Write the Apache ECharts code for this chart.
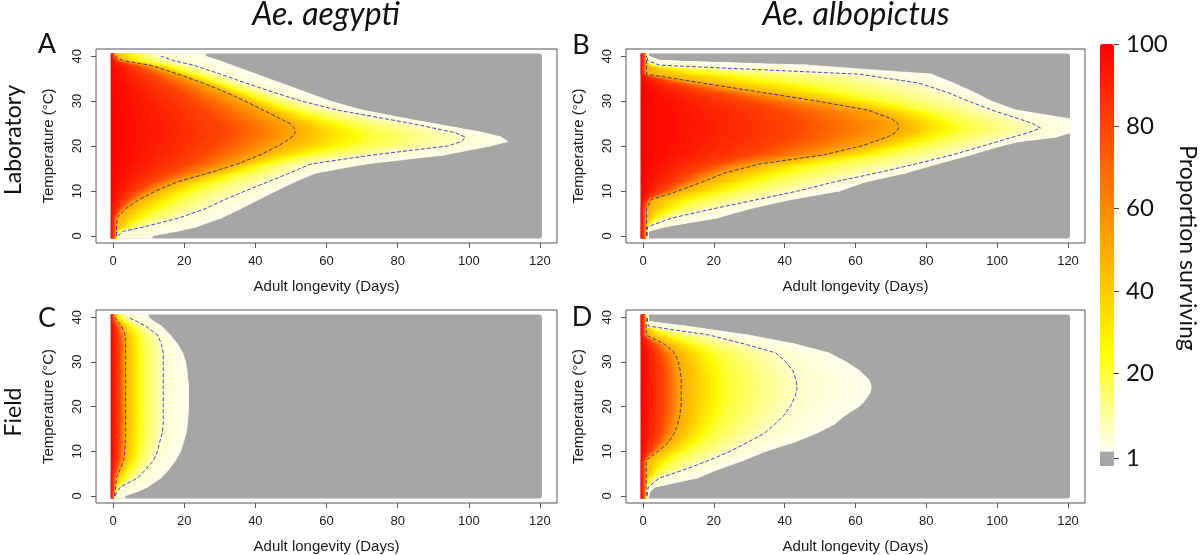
<!DOCTYPE html>
<html>
<head>
<meta charset="utf-8">
<script src="https://cdn.jsdelivr.net/npm/echarts@6.0.0/dist/echarts.min.js"></script>
<style>
html, body { margin:0; padding:0; background:#ffffff; }
#chart { width:1200px; height:555px; }
</style>
</head>
<body>
<div id="chart"></div>
<script>
// ================= DATA =================
// Temperature rows (°C)
const TEMPS = [0,1,2,4,6,8,10,12,14,16,18,20,21,22,23,24,25,26,28,30,32,34,36,38,39,40];
// Survival levels (%) whose day-positions are stored per row (day 0 = 100 %)
const SURVIVAL_LEVELS = [100, 80, 50, 20, 5, 1];
const DAY_TICKS = [0,20,40,60,80,100,120];
const TEMP_TICKS = [0,10,20,30,40];
const DAY_RANGE = [0, 120];
const TEMP_RANGE = [0, 40];
const LEGEND_TICKS = [100, 80, 60, 40, 20, 1];
const COL_TITLES = ['Ae. aegypti', 'Ae. albopictus'];
const ROW_TITLES = ['Laboratory', 'Field'];
const PANEL_LETTERS = ['A', 'B', 'C', 'D'];
const X_TITLE = 'Adult longevity (Days)';
const Y_TITLE = 'Temperature (°C)';
const LEGEND_TITLE = 'Proportion surviving';

// Panel A – Ae. aegypti, laboratory: day at which survival falls to 80/50/20/5/1 %
const A_D80 = [0.4,0.4,0.5,0.6,1.8,4,7,11,16,21,25,28,29.5,31,31.5,31.5,30.5,29,26,22.5,19,15,11,6,1.5,0.3];
const A_D50 = [1.0,1.0,1.0,1.1,3.5,7.2,12,18,27,35,41.3,46.3,48.5,50.3,51.2,51,49.7,47.2,42.2,37.1,31.6,25.3,18.3,10.4,2.8,0.5];
const A_D20 = [1.1,1.8,4.5,9,13.5,18,23.3,29.5,37.2,44.3,55.6,67.8,70.8,72.3,71.4,68.6,65.1,60.6,51.6,44.3,37.6,30.7,23.7,15.9,9.2,6.4];
const A_D5  = [1.3,2.8,8.8,18.6,25.8,31.2,37.2,43.5,49.7,55.6,73,94,98,99,96,90,84,77,63,53,44.9,37.4,30.2,22.6,17,13.5];
const A_D1  = [11,18,23.5,30.5,35.8,40.7,45.7,51,57,71,93,106,111,109,104,97,90,83,70,61,54.1,47.2,40.3,33.3,30,26];

// Panel B – Ae. albopictus, laboratory
const B_D80 = [0.4,0.4,0.4,0.4,0.4,1.2,6,10,14,20,30.5,37,39,41.5,43,43.5,43,42,38,29.5,19.5,9,0.5,0.4,0.4,0.4];
const B_D50 = [1.0,1.0,1.0,1.0,1.0,2.2,10,16.8,23.1,33,50.8,61.7,65.3,69,71.3,72.2,72,70.4,63.5,49.2,33,16.9,1.0,1.0,1.0,1.0];
const B_D20 = [1.1,1.1,1.1,4.3,9.4,15.5,25.3,33.5,42.4,52.8,67.2,77.1,81,85,88.3,90.2,89.1,86.6,79.3,68.4,56.7,44.4,25,2.7,1.1,1.1];
const B_D5  = [1.2,1.2,1.3,8.3,19.7,31.8,43.9,54,66,77,87.2,96,100.2,104.5,109,112.2,110,106.3,98.5,91.9,85.7,77.9,61,4.7,1.3,1.3];
const B_D1  = [1.5,1.5,6.2,21.2,30,41.2,55.5,62.8,74.2,83,92.4,101,106.2,116.7,121,121,121,121,105.3,98.3,93.3,87.7,81.5,46.6,5,1.5];

// Panel C – Ae. aegypti, field
const C_D80 = [0.25,0.3,0.35,0.45,1.0,1.6,1.8,1.9,1.9,1.9,1.9,1.9,1.9,1.9,1.9,1.9,1.9,1.9,1.9,1.9,1.9,1.9,1.8,1.2,0.6,0.25];
const C_D50 = [0.4,0.6,0.7,0.9,2.0,3.0,3.3,3.4,3.5,3.5,3.5,3.5,3.5,3.5,3.5,3.5,3.5,3.5,3.5,3.5,3.5,3.5,3.4,2.3,1.3,0.5];
const C_D20 = [0.5,0.9,1.3,3.7,5.3,6.8,7.5,7.8,8.1,8.2,8.3,8.3,8.3,8.3,8.3,8.3,8.3,8.3,8.3,8.3,8.3,8.0,7.5,5.4,3.8,2.1];
const C_D5  = [0.6,1.2,2.1,6.9,9.3,11.4,12.5,13.1,13.8,14.1,14.1,14.1,14.1,14.1,14.1,14.1,14.1,14.1,14.1,14.1,14.1,13.6,12.5,9.2,6.8,4.0];
const C_D1  = [3.3,7,9.7,13.5,15.8,17.6,19,19.8,20.5,20.9,21.1,21.2,21.2,21.2,21.2,21.2,21.2,21,20.8,20.4,19.6,18.1,16.1,13.6,11.5,10];

// Panel D – Ae. albopictus, field
const D_D80 = [0.4,0.4,0.4,0.4,0.4,0.5,2.3,3.8,4.8,5.4,5.7,6,6,6,6,6,6,6,5.8,5.5,4.8,3,0.4,0.4,0.4,0.4];
const D_D50 = [0.9,0.9,0.9,0.9,0.9,0.95,4.3,7.2,8.8,9.8,10.4,10.7,10.8,10.8,10.8,10.8,10.8,10.8,10.5,10.0,8.9,6.0,0.9,0.9,0.9,0.9];
const D_D20 = [1.0,1.0,1.0,2.4,5.4,8.1,12.5,16.2,19,20.8,22.2,23.1,23.4,23.6,23.8,23.9,23.9,23.8,23.2,22.1,20.3,15.4,8,1.1,1.0,1.0];
const D_D5  = [1.2,1.3,1.5,4.7,12.2,18.8,24.7,29.6,34.2,37.2,39.8,41.6,42.2,42.8,43.2,43.5,43.4,43.2,42.3,40.3,37.5,28.6,18.7,1.5,1.3,1.2];
const D_D1  = [1.6,2.0,3.5,15.3,21.5,28.6,34.7,42.7,49,54,57,61,62.3,63.2,64.1,64.4,64.3,63.8,61.2,57.3,52.5,42.9,29.7,12,1.6,1.5];

// ================= STYLE / LAYOUT =================
const HEAT_STOPS = [[1,[255,255,240]],[13,[255,255,128]],[25,[255,255,0]],[40,[255,204,0]],[60,[255,136,0]],[80,[255,68,0]],[100,[255,0,0]]];
function heatColor(v) {
  if (v <= HEAT_STOPS[0][0]) return rgb(HEAT_STOPS[0][1]);
  for (let i = 1; i < HEAT_STOPS.length; i++) {
    const [v1, c1] = HEAT_STOPS[i];
    const [v0, c0] = HEAT_STOPS[i - 1];
    if (v <= v1) {
      const f = (v - v0) / (v1 - v0);
      return rgb(c0.map((c, j) => c + (c1[j] - c) * f));
    }
  }
  return rgb(HEAT_STOPS[HEAT_STOPS.length - 1][1]);
}
function rgb(c) { return 'rgb(' + c.map(x => Math.round(x)).join(',') + ')'; }
const GRAY = '#A6A6A6';
const BOX = '#555555';
const TXT = '#1a1a1a';
const INNER_CONTOUR = '#3d3d6e';
const OUTER_CONTOUR = '#4848cc';
const LEFT_PAD_DAY = -0.6;   // red strip at day 0 (plotted dots have a small radius)
const T_PAD = 0.55;
const SUB = 8;                // slices per band, for a smooth colour ramp

const PANELS = [
  { levels: [A_D80, A_D50, A_D20, A_D5, A_D1], grid: { left: 96,  top: 49,  width: 461, height: 194 } },
  { levels: [B_D80, B_D50, B_D20, B_D5, B_D1], grid: { left: 626, top: 49,  width: 459, height: 194 } },
  { levels: [C_D80, C_D50, C_D20, C_D5, C_D1], grid: { left: 96,  top: 310, width: 461, height: 193 } },
  { levels: [D_D80, D_D50, D_D20, D_D5, D_D1], grid: { left: 626, top: 310, width: 459, height: 193 } }
];

function buildBands(levels) {
  const n = TEMPS.length;
  const rows = TEMPS.map((t, i) => ({ t, xs: [LEFT_PAD_DAY].concat(levels.map(a => a[i])) }));
  const padded = [{ t: TEMPS[0] - T_PAD, xs: rows[0].xs }].concat(rows, [{ t: TEMPS[n - 1] + T_PAD, xs: rows[n - 1].xs }]);
  const out = [];
  for (let r = 0; r < padded.length - 1; r++) {
    const a = padded[r], b = padded[r + 1];
    for (let k = 0; k < a.xs.length - 1; k++) {
      out.push([a.xs[k], a.xs[k + 1], a.t, b.xs[k], b.xs[k + 1], b.t, k]);
    }
  }
  return out;
}

function renderBand(params, api) {
  const xa0 = api.value(0), xa1 = api.value(1), ya = api.value(2);
  const xb0 = api.value(3), xb1 = api.value(4), yb = api.value(5);
  const k = api.value(6);
  const L0 = SURVIVAL_LEVELS[k], L1 = SURVIVAL_LEVELS[k + 1];
  const children = [];
  for (let s = 0; s < SUB; s++) {
    const f0 = s / SUB, f1 = (s + 1) / SUB;
    const pts = [
      api.coord([xa0 + (xa1 - xa0) * f0, ya]),
      api.coord([xa0 + (xa1 - xa0) * f1, ya]),
      api.coord([xb0 + (xb1 - xb0) * f1, yb]),
      api.coord([xb0 + (xb1 - xb0) * f0, yb])
    ];
    const c0 = heatColor(L0 + (L1 - L0) * f0), c1 = heatColor(L0 + (L1 - L0) * f1);
    const g = new echarts.graphic.LinearGradient(0, 0, 1, 0, [{ offset: 0, color: c0 }, { offset: 1, color: c1 }]);
    children.push({ type: 'polygon', shape: { points: pts }, style: { fill: g, stroke: g, lineWidth: 0.7 } });
  }
  return { type: 'group', children };
}

function renderGray(params, api) {
  const a = api.coord([api.value(0), api.value(3)]);
  const b = api.coord([api.value(1), api.value(2)]);
  return { type: 'rect', shape: { x: a[0] - 2, y: a[1] - 2.6, width: b[0] - a[0] + 4, height: b[1] - a[1] + 5.2, r: 3 },
           style: { fill: GRAY } };
}

function renderLegendGray(params, api) {
  const a = api.coord([0, api.value(1)]);
  const b = api.coord([1, api.value(0)]);
  return { type: 'rect', shape: { x: a[0], y: a[1], width: b[0] - a[0], height: b[1] - a[1] }, style: { fill: GRAY } };
}

const grids = [], xAxes = [], yAxes = [], series = [];
PANELS.forEach((p, i) => {
  grids.push(Object.assign({ show: true, borderColor: BOX, borderWidth: 1, backgroundColor: 'transparent',
    containLabel: false, outerBoundsMode: 'none' }, p.grid));
  xAxes.push({
    type: 'value', gridIndex: i, min: -4.8, max: 124.8,
    axisLine: { show: false, onZero: false },
    axisTick: { show: true, inside: false, length: 5, customValues: DAY_TICKS, lineStyle: { color: BOX, width: 1 } },
    axisLabel: { show: true, customValues: DAY_TICKS, margin: 12, color: TXT, fontSize: 13, fontFamily: 'Liberation Sans' },
    splitLine: { show: false },
    name: X_TITLE, nameLocation: 'middle', nameGap: 36,
    nameTextStyle: { color: TXT, fontSize: 15, fontFamily: 'Liberation Sans' }
  });
  yAxes.push({
    type: 'value', gridIndex: i, min: -1.6, max: 41.6,
    axisLine: { show: false, onZero: false },
    axisTick: { show: true, inside: false, length: 5, customValues: TEMP_TICKS, lineStyle: { color: BOX, width: 1 } },
    axisLabel: { show: true, customValues: TEMP_TICKS, rotate: 90, margin: 12, color: TXT, fontSize: 13, fontFamily: 'Liberation Sans' },
    splitLine: { show: false },
    name: Y_TITLE, nameLocation: 'middle', nameRotate: 90, nameGap: 40,
    nameTextStyle: { color: TXT, fontSize: 15, fontFamily: 'Liberation Sans' }
  });
  series.push({
    type: 'custom', xAxisIndex: i, yAxisIndex: i, renderItem: renderGray, silent: true, z: 1,
    encode: { x: [0, 1], y: [2, 3] },
    data: [[DAY_RANGE[0], DAY_RANGE[1], TEMP_RANGE[0], TEMP_RANGE[1]]]
  });
  series.push({
    type: 'custom', xAxisIndex: i, yAxisIndex: i, renderItem: renderBand, silent: true, z: 2,
    encode: { x: [0, 1, 3, 4], y: [2, 5] },
    data: buildBands(p.levels)
  });
  const inner = p.levels[1], outer = p.levels[3];
  series.push({
    type: 'line', xAxisIndex: i, yAxisIndex: i, silent: true, z: 5, symbol: 'none', showSymbol: false,
    lineStyle: { color: INNER_CONTOUR, width: 1, type: [4, 2] },
    data: TEMPS.map((t, j) => [inner[j], t])
  });
  series.push({
    type: 'line', xAxisIndex: i, yAxisIndex: i, silent: true, z: 5, symbol: 'none', showSymbol: false,
    lineStyle: { color: OUTER_CONTOUR, width: 1, type: [4, 2] },
    data: TEMPS.map((t, j) => [outer[j], t])
  });
});

// colour-bar axis grid
const ONE_LABEL_POS = -0.6;
grids.push({ show: false, left: 1100, top: 44, width: 14, height: 422, containLabel: false, outerBoundsMode: 'none' });
xAxes.push({ type: 'value', gridIndex: 4, min: 0, max: 1, show: false });
const legendTickPos = LEGEND_TICKS.map(v => (v === 1 ? ONE_LABEL_POS : v));
yAxes.push({
  type: 'value', gridIndex: 4, position: 'right', min: -2.6, max: 100,
  axisLine: { show: false, onZero: false },
  axisTick: { show: true, length: 5, customValues: legendTickPos, lineStyle: { color: '#444', width: 1 } },
  axisLabel: { show: true, customValues: legendTickPos, margin: 12, color: '#111', fontSize: 24, fontFamily: 'Lato',
    formatter: v => (v < 1 ? '1' : String(Math.round(v))) },
  splitLine: { show: false }
});
const legendSeriesIndex = series.length;
series.push({
  type: 'custom', xAxisIndex: 4, yAxisIndex: 4, renderItem: renderLegendGray, silent: true,
  encode: { y: [0, 1] },
  data: [[-2.6, 0.9]]
});

const barColors = [];
for (let v = 1; v <= 100; v++) barColors.push(heatColor(v));

const graphics = [
  { type: 'text', x: 326, y: 15, style: { text: COL_TITLES[0], font: 'italic 32px Lato', fill: '#111', align: 'center', verticalAlign: 'middle' } },
  { type: 'text', x: 856, y: 15, style: { text: COL_TITLES[1], font: 'italic 32px Lato', fill: '#111', align: 'center', verticalAlign: 'middle' } },
  { type: 'text', x: 14, y: 140, rotation: Math.PI / 2, style: { text: ROW_TITLES[0], font: '23px Lato', fill: '#111', align: 'center', verticalAlign: 'middle' } },
  { type: 'text', x: 14, y: 412, rotation: Math.PI / 2, style: { text: ROW_TITLES[1], font: '23px Lato', fill: '#111', align: 'center', verticalAlign: 'middle' } },
  { type: 'text', x: 47, y: 44, style: { text: PANEL_LETTERS[0], font: '27px Lato', fill: '#111', align: 'center', verticalAlign: 'middle' } },
  { type: 'text', x: 581, y: 45, style: { text: PANEL_LETTERS[1], font: '27px Lato', fill: '#111', align: 'center', verticalAlign: 'middle' } },
  { type: 'text', x: 47, y: 318, style: { text: PANEL_LETTERS[2], font: '27px Lato', fill: '#111', align: 'center', verticalAlign: 'middle' } },
  { type: 'text', x: 582, y: 317, style: { text: PANEL_LETTERS[3], font: '27px Lato', fill: '#111', align: 'center', verticalAlign: 'middle' } },
  { type: 'text', x: 1187, y: 248, rotation: -Math.PI / 2, style: { text: LEGEND_TITLE, font: '23px Lato', fill: '#111', align: 'center', verticalAlign: 'middle' } }
];

const chart = echarts.init(document.getElementById('chart'), null, { renderer: 'canvas' });
chart.setOption({
  animation: false,
  backgroundColor: '#ffffff',
  grid: grids,
  xAxis: xAxes,
  yAxis: yAxes,
  visualMap: {
    type: 'continuous', min: 1, max: 100, calculable: false, seriesIndex: [legendSeriesIndex], dimension: 0,
    left: 1100, top: 44, itemWidth: 14, itemHeight: 407, padding: 0, text: null, showLabel: false,
    inRange: { color: barColors }, hoverLink: false
  },
  graphic: graphics,
  series: series
});
</script>
</body>
</html>
